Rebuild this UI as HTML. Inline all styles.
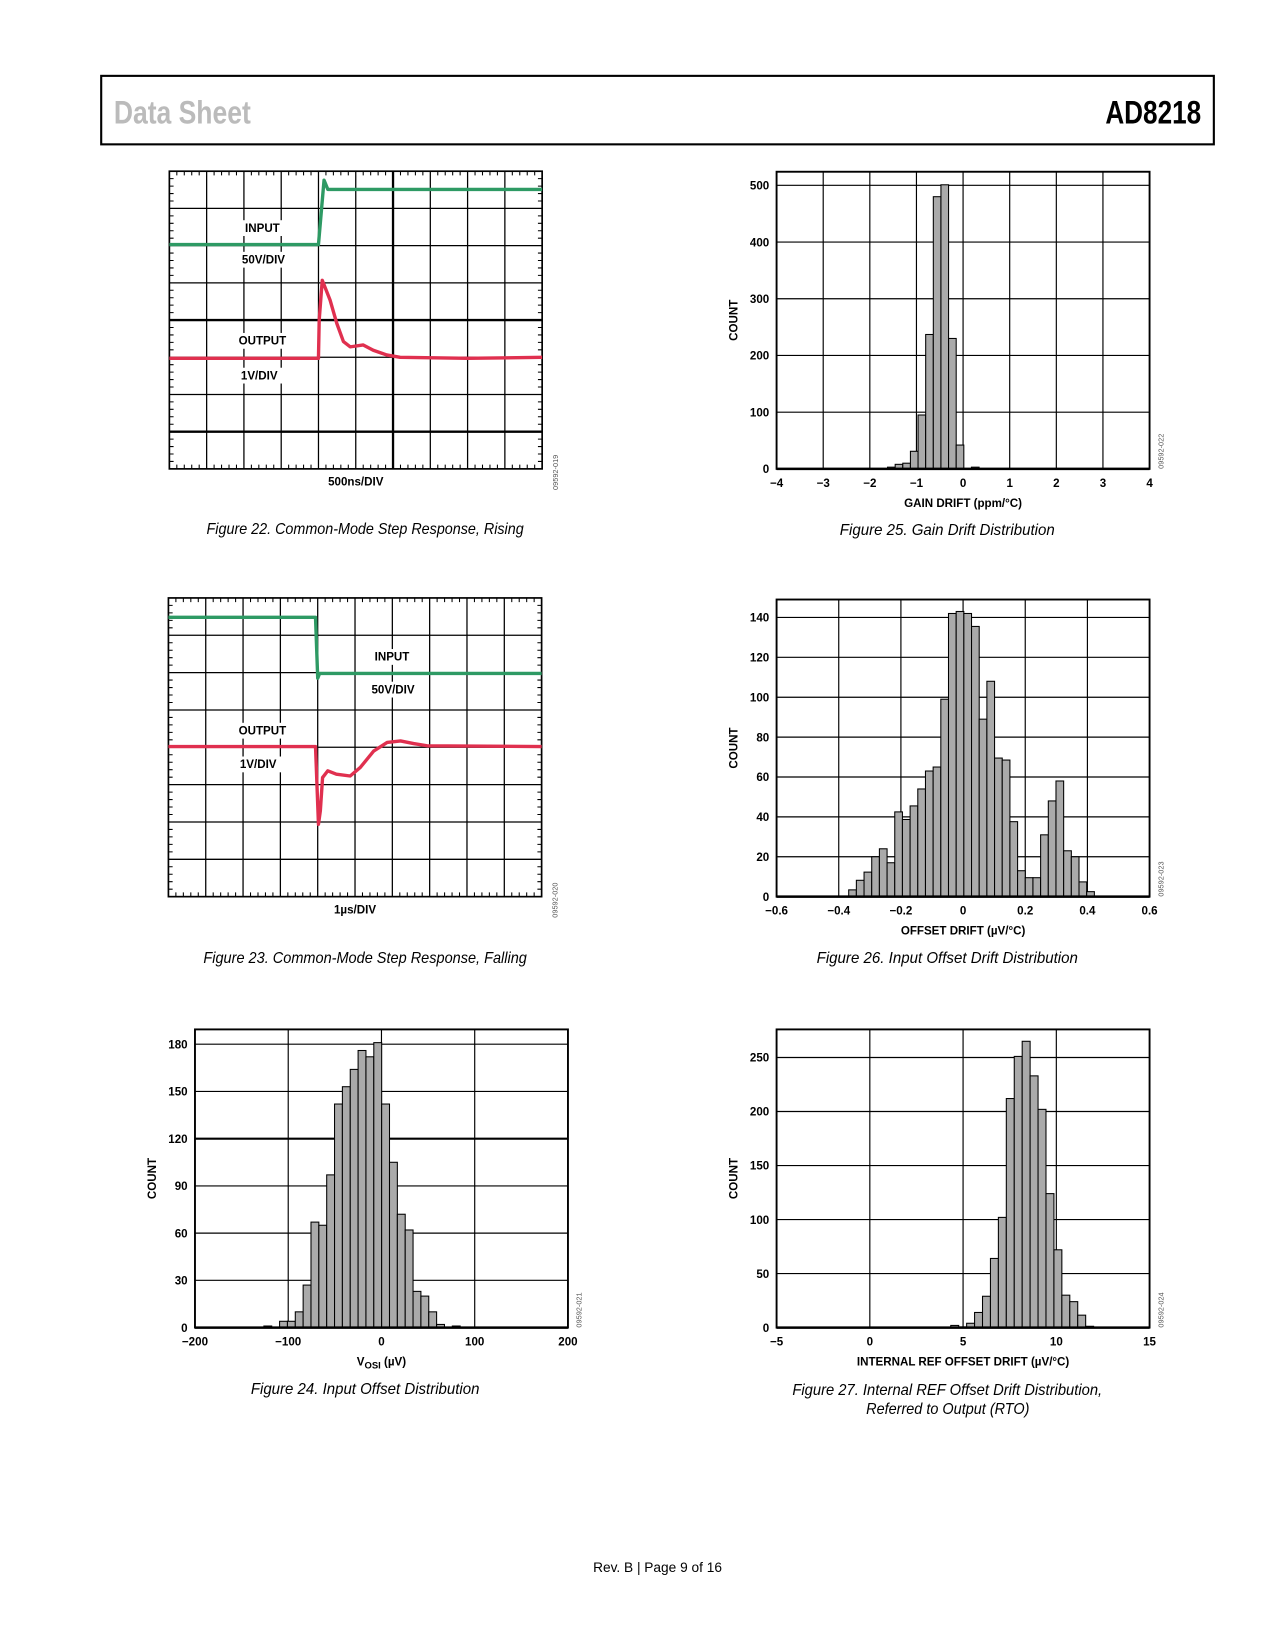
<!DOCTYPE html>
<html><head><meta charset="utf-8">
<style>
html,body{margin:0;padding:0;background:#fff;}
svg{display:block;}
text{font-family:"Liberation Sans",Arial,sans-serif;}
.tk{font-size:11px;font-weight:bold;}
.cap{font-size:15px;font-style:italic;}
</style></head>
<body>
<svg id="page" width="1275" height="1650" viewBox="0 0 1210 1566" xmlns="http://www.w3.org/2000/svg">
<rect x="96" y="72" width="1056" height="65" fill="none" stroke="#000" stroke-width="2"/>
<text x="108" y="117" font-size="31" fill="#bbb" font-weight="bold" textLength="130" lengthAdjust="spacingAndGlyphs">Data Sheet</text>
<text x="1049" y="117" font-size="31" fill="#000" font-weight="bold" textLength="91" lengthAdjust="spacingAndGlyphs">AD8218</text>
<text class="cap" x="196" y="507" textLength="301" lengthAdjust="spacingAndGlyphs">Figure 22. Common-Mode Step Response, Rising</text>
<text class="cap" x="193" y="914" textLength="307" lengthAdjust="spacingAndGlyphs">Figure 23. Common-Mode Step Response, Falling</text>
<text class="cap" x="238" y="1323" textLength="217" lengthAdjust="spacingAndGlyphs">Figure 24. Input Offset Distribution</text>
<text class="cap" x="797" y="508" textLength="204" lengthAdjust="spacingAndGlyphs">Figure 25. Gain Drift Distribution</text>
<text class="cap" x="775" y="914" textLength="248" lengthAdjust="spacingAndGlyphs">Figure 26. Input Offset Drift Distribution</text>
<text class="cap" x="752" y="1324" textLength="294" lengthAdjust="spacingAndGlyphs">Figure 27. Internal REF Offset Drift Distribution,</text>
<text class="cap" x="822" y="1342" textLength="155" lengthAdjust="spacingAndGlyphs">Referred to Output (RTO)</text>
<text x="624" y="1492" font-size="13" text-anchor="middle">Rev. B | Page 9 of 16</text>
</svg>
<script>
// ---------- data ----------
const fig22InputX = [0, 4.0, 4.15, 4.25, 10];
const fig22InputY = [6.03, 6.03, 7.76, 7.51, 7.51];
const fig22OutputX = [0, 4.0, 4.02, 4.1, 4.31, 4.49, 4.67, 4.85, 5.2, 5.47, 5.83, 6.19, 8, 10];
const fig22OutputY = [2.97, 2.97, 4.0, 5.07, 4.54, 3.91, 3.42, 3.28, 3.33, 3.19, 3.06, 3.0, 2.97, 3.0];
const fig23InputX = [0, 3.94, 4.0, 4.05, 10];
const fig23InputY = [7.48, 7.48, 5.85, 5.98, 5.98];
const fig23OutputX = [0, 3.94, 4.02, 4.07, 4.13, 4.27, 4.5, 4.87, 5.14, 5.5, 5.86, 6.22, 6.57, 6.93, 10];
const fig23OutputY = [4.02, 4.02, 1.94, 2.3, 3.19, 3.37, 3.28, 3.23, 3.46, 3.9, 4.13, 4.17, 4.1, 4.04, 4.02];

const fig24Start = -126.1, fig24Bin = 8.42;
const fig24Counts = [1,0,4,4,10,27,67,65,97,142,153,164,176,172,181,142,105,72,62,23,20,10,2,0,1];
const fig25Start = -1.62, fig25Bin = 0.1636;
const fig25Counts = [3,8,10,31,95,237,480,501,230,42,0,3];
const fig26Start = -0.368, fig26Bin = 0.0247;
const fig26Counts = [3.4,8.2,12.3,20,24,17,42.5,38.7,45.5,54,63,65,99,142,143,142,135.5,89,108,69.5,68.5,37.6,13,9.5,9.5,31,48,58,23,20,7.4,2.5];
const fig27Start = 4.34, fig27Bin = 0.4255;
const fig27Counts = [2,0.6,4,14,29,64,102,212,251,265,233,202,124,72,30,24,11.5,1.2];

const fig24XTicks = ['\u2212200','\u2212100','0','100','200'];
const fig24YTicks = ['0','30','60','90','120','150','180'];
const fig25XTicks = ['\u22124','\u22123','\u22122','\u22121','0','1','2','3','4'];
const fig25YTicks = ['0','100','200','300','400','500'];
const fig26XTicks = ['\u22120.6','\u22120.4','\u22120.2','0','0.2','0.4','0.6'];
const fig26YTicks = ['0','20','40','60','80','100','120','140'];
const fig27XTicks = ['\u22125','0','5','10','15'];
const fig27YTicks = ['0','50','100','150','200','250'];

// ---------- drawing ----------
const NS = 'http://www.w3.org/2000/svg';
const svg = document.getElementById('page');
function mk(tag, attrs, parent){
  const e = document.createElementNS(NS, tag);
  for (const k in attrs) e.setAttribute(k, attrs[k]);
  (parent || svg).appendChild(e);
  return e;
}
function txt(s, x, y, cls, anchor, parent){
  const t = mk('text', {x:x, y:y, 'text-anchor':anchor||'middle'}, parent);
  if (cls) t.setAttribute('class', cls);
  t.textContent = s;
  return t;
}

function scope(name, L, T, R, B, thickH, thickV, inX, inY, outX, outY, labels, xlabel, code){
  const g = mk('g', {});
  
  
  const sx = d => L + (R - L) * d / 10;
  const sy = d => B - (B - T) * d / 8;
  for (let i = 1; i < 10; i++) {
    const l = mk('line', {x1:sx(i), x2:sx(i), y1:T, y2:B, stroke:'#000', 'stroke-width': i===thickV?2.2:1.2}, g);
    
    
  }
  for (let j = 1; j < 8; j++) {
    const l = mk('line', {x1:L, x2:R, y1:sy(j), y2:sy(j), stroke:'#000', 'stroke-width': thickH.includes(j)?2.2:1.2}, g);
    
    
  }
  let d = '';
  for (let k = 1; k < 50; k++) {
    if (k % 5 === 0) continue;
    const x = sx(k / 5);
    d += `M${x} ${T}v4M${x} ${B}v-4`;
  }
  for (let k = 1; k < 40; k++) {
    if (k % 5 === 0) continue;
    const y = sy(k / 5);
    d += `M${L} ${y}h4M${R} ${y}h-4`;
  }
  const tp = mk('path', {d:d, stroke:'#000', 'stroke-width':1, fill:'none'}, g);
  
  
  const fr = mk('rect', {x:L, y:T, width:R-L, height:B-T, fill:'none', stroke:'#000', 'stroke-width':1.6}, g);
  
  
  labels.forEach(lb => {
    const w = lb.t.length * 7.2 + 8;
    const bg = mk('rect', {x:lb.x - w/2, y:lb.y - 11, width:w, height:15, fill:'#fff'}, g);
    
    
    const t = txt(lb.t, lb.x, lb.y, 'tk', 'middle', g);
    t.setAttribute('font-size', '12');
    
    
  });
  function trace(xs, ys, color, nm){
    let p = '';
    xs.forEach((x, i) => { p += (i ? 'L' : 'M') + sx(x).toFixed(1) + ' ' + sy(ys[i]).toFixed(1); });
    const pa = mk('path', {d:p, stroke:color, 'stroke-width':3.2, fill:'none', 'stroke-linejoin':'round'}, g);
    
    
  }
  trace(inX, inY, '#2e9a64', 'input-trace');
  trace(outX, outY, '#e0304f', 'output-trace');
  const xl = txt(xlabel, (L + R) / 2, B + 16, 'tk', 'middle', g);
  
  
  const c = txt(code, 0, 0, '', 'start', g);
  c.setAttribute('font-size', '7');
  c.setAttribute('fill', '#555');
  c.setAttribute('transform', `translate(${R+15},${B+20}) rotate(-90)`);
  
  
}

scope('fig22-scope', 160.7, 162.5, 514.5, 445, [1,4], 6, fig22InputX, fig22InputY, fig22OutputX, fig22OutputY,
  [{t:'INPUT', x:249, y:220, n:'input-label'}, {t:'50V/DIV', x:250, y:250, n:'input-scale-label'},
   {t:'OUTPUT', x:249, y:327, n:'output-label'}, {t:'1V/DIV', x:246, y:360, n:'output-scale-label'}],
  '500ns/DIV', '09592-019');
scope('fig23-scope', 159.8, 567.5, 514, 851, [], -1, fig23InputX, fig23InputY, fig23OutputX, fig23OutputY,
  [{t:'INPUT', x:372, y:627, n:'input-label'}, {t:'50V/DIV', x:373, y:658, n:'input-scale-label'},
   {t:'OUTPUT', x:249, y:697, n:'output-label'}, {t:'1V/DIV', x:245, y:729, n:'output-scale-label'}],
  '1\u00b5s/DIV', '09592-020');

function hist(name, L, T, R, B, xmin, xmax, ymax, xticks, yticks, ystep, start, bin, counts, xtitle, code, thickY){
  const g = mk('g', {});
  
  
  const X = v => L + (R - L) * (v - xmin) / (xmax - xmin);
  const Y = v => B - (B - T) * v / ymax;
  const xstep = (xmax - xmin) / (xticks.length - 1);
  yticks.forEach((lab, i) => {
    const v = i * ystep;
    if (i > 0) {
      const l = mk('line', {x1:L, x2:R, y1:Y(v), y2:Y(v), stroke:'#000', 'stroke-width': v===thickY?2:1.1}, g);
      
      
    }
    const t = txt(lab, L - 7, Y(v) + 4, 'tk', 'end', g);
    
    
  });
  xticks.forEach((lab, i) => {
    const v = xmin + i * xstep;
    if (i > 0 && i < xticks.length - 1) {
      const l = mk('line', {x1:X(v), x2:X(v), y1:T, y2:B, stroke:'#000', 'stroke-width':1.1}, g);
      
      
    }
    const t = txt(lab, X(v), B + 17, 'tk', 'middle', g);
    
    
  });
  counts.forEach((c, i) => {
    if (c <= 0) return;
    const x0 = X(start + i * bin), x1 = X(start + (i + 1) * bin);
    const r = mk('rect', {x:x0, y:Y(c), width:x1 - x0, height:B - Y(c), fill:'#aaa', stroke:'#000', 'stroke-width':1}, g);
    
    
  });
  const fr = mk('rect', {x:L, y:T, width:R-L, height:B-T, fill:'none', stroke:'#000', 'stroke-width':1.8}, g);
  
  
  const bl = mk('line', {x1:L, x2:R, y1:B, y2:B, stroke:'#000', 'stroke-width':2.4}, g);
  
  
  const yt = txt('COUNT', 0, 0, 'tk', 'middle', g);
  yt.setAttribute('transform', `translate(${L-37},${(T+B)/2}) rotate(-90)`);
  
  
  const xt = mk('text', {x:(L+R)/2, y:B+36, 'text-anchor':'middle', class:'tk'}, g);
  
  
  if (xtitle === 'VOSI') {
    xt.appendChild(document.createTextNode('V'));
    const s = mk('tspan', {'font-size':'9', dy:'3'}, xt);
    s.textContent = 'OSI';
    const s2 = mk('tspan', {dy:'-3'}, xt);
    s2.textContent = ' (\u00b5V)';
  } else {
    xt.textContent = xtitle;
  }
  const c = txt(code, 0, 0, '', 'start', g);
  c.setAttribute('font-size', '7');
  c.setAttribute('fill', '#555');
  c.setAttribute('transform', `translate(${R+13},${B}) rotate(-90)`);
  
  
}

hist('fig24-input-offset-histogram', 185, 977, 539, 1260, -200, 200, 189.4, fig24XTicks, fig24YTicks, 30,
  fig24Start, fig24Bin, fig24Counts, 'VOSI', '09592-021', 120);
hist('fig25-gain-drift-histogram', 737, 163, 1091, 445, -4, 4, 524, fig25XTicks, fig25YTicks, 100,
  fig25Start, fig25Bin, fig25Counts, 'GAIN DRIFT (ppm/\u00b0C)', '09592-022', -1);
hist('fig26-offset-drift-histogram', 737, 569, 1091, 851, -0.6, 0.6, 149, fig26XTicks, fig26YTicks, 20,
  fig26Start, fig26Bin, fig26Counts, 'OFFSET DRIFT (\u00b5V/\u00b0C)', '09592-023', -1);
hist('fig27-ref-offset-drift-histogram', 737, 977, 1091, 1260, -5, 15, 276, fig27XTicks, fig27YTicks, 50,
  fig27Start, fig27Bin, fig27Counts, 'INTERNAL REF OFFSET DRIFT (\u00b5V/\u00b0C)', '09592-024', -1);
</script>
</body></html>
